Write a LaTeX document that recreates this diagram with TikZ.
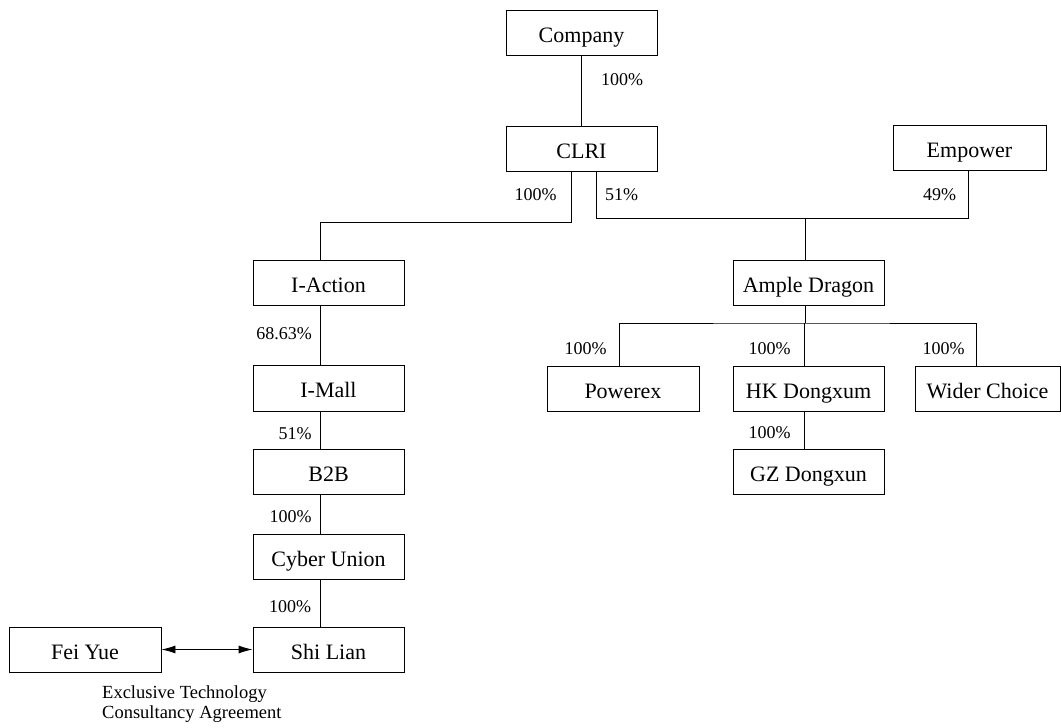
\documentclass[tikz,border=0pt]{standalone}
\usepackage{fontspec}
\setmainfont{Liberation Serif}
\usetikzlibrary{arrows.meta}
\begin{document}
\begin{tikzpicture}[x=1pt,y=-1pt,
  box/.style={draw,line width=0.9pt,minimum width=151pt,minimum height=45pt,inner sep=0pt,text height=19pt,text depth=0pt,font=\fontsize{22}{24}\selectfont},
  pct/.style={inner sep=0pt,font=\fontsize{18}{20}\selectfont},
  link/.style={line width=0.9pt}]
\useasboundingbox (0,0) rectangle (1061,728);
% nodes
\node[box] (company) at (581.5,32.5) {Company};
\node[box] (clri) at (581.5,148.5) {CLRI};
\node[box,minimum width=153pt] (empower) at (969.5,147.5) {Empower};
\node[box] (iaction) at (328.5,282.5) {I-Action};
\node[box,minimum height=46pt] (imall) at (328.5,388) {I-Mall};
\node[box] (b2b) at (328.5,471.5) {B2B};
\node[box] (cyber) at (328.5,556.5) {Cyber Union};
\node[box] (shilian) at (328.5,649.5) {Shi Lian};
\node[box,minimum width=152pt] (feiyue) at (85,649.5) {Fei Yue};
\node[box] (ample) at (808.5,282.5) {Ample Dragon};
\node[box,minimum width=152pt] (powerex) at (623,388.5) {Powerex};
\node[box] (hk) at (808.5,388.5) {HK Dongxum};
\node[box,minimum width=145pt] (wider) at (987.5,388.5) {Wider Choice};
\node[box] (gz) at (808.5,471.5) {GZ Dongxun};
% helper coordinates
\coordinate (xcl) at (571,0);
\coordinate (xcr) at (596,0);
\coordinate (xl) at (320,0);
\coordinate (xad) at (805,0);
\coordinate (xpw) at (619,0);
\coordinate (xhk) at (804,0);
\coordinate (xwc) at (976,0);
\coordinate (xem) at (968,0);
\coordinate (jl) at (571,222);
\coordinate (jr) at (596,218);
\coordinate (jad) at (805,218);
\coordinate (jb) at (805,323);
% connectors
\draw[link] (company.south -| 581,0) -- (clri.north -| 581,0);
\draw[link] (clri.south -| xcl) -- (jl) -| (iaction.north -| xl);
\draw[link] (clri.south -| xcr) -- (jr) -| (empower.south -| xem);
\draw[link] (jad) -- (ample.north -| xad);
\draw[link] (ample.south -| xad) -- (jb);
\draw[link] (powerex.north -| xpw) |- (jb) -| (wider.north -| xwc);
\draw[link] (jb -| xhk) -- (hk.north -| xhk);
\draw[link] (hk.south -| xhk) -- (gz.north -| xhk);
\draw[link] (iaction.south -| xl) -- (imall.north -| xl);
\draw[link] (imall.south -| xl) -- (b2b.north -| xl);
\draw[link] (b2b.south -| xl) -- (cyber.north -| xl);
\draw[link] (cyber.south -| xl) -- (shilian.north -| xl);
\draw[link,{Latex[length=14pt,width=8pt]}-{Latex[length=14pt,width=8pt]}] (feiyue.east) -- (shilian.west);
% labels
\node[pct] (l1) at (622,80) {100\%};
\node[pct] (l2) at (535.5,195) {100\%};
\node[pct] (l3) at (621.5,195) {51\%};
\node[pct] (l4) at (939.5,195) {49\%};
\node[pct] (l5) at (284,334) {68.63\%};
\node[pct] (l6) at (295,434) {51\%};
\node[pct] (l7) at (290.5,517) {100\%};
\node[pct] (l8) at (290,607) {100\%};
\node[pct] (l9) at (585.5,349) {100\%};
\node[pct] (l10) at (769.5,349) {100\%};
\node[pct] (l11) at (943.5,349) {100\%};
\node[pct] (l12) at (769.5,433) {100\%};
\node[pct,anchor=west,align=left,font=\fontsize{18.5}{20}\selectfont] (agr) at (102,704) {Exclusive Technology\\Consultancy Agreement};
\end{tikzpicture}
\end{document}
